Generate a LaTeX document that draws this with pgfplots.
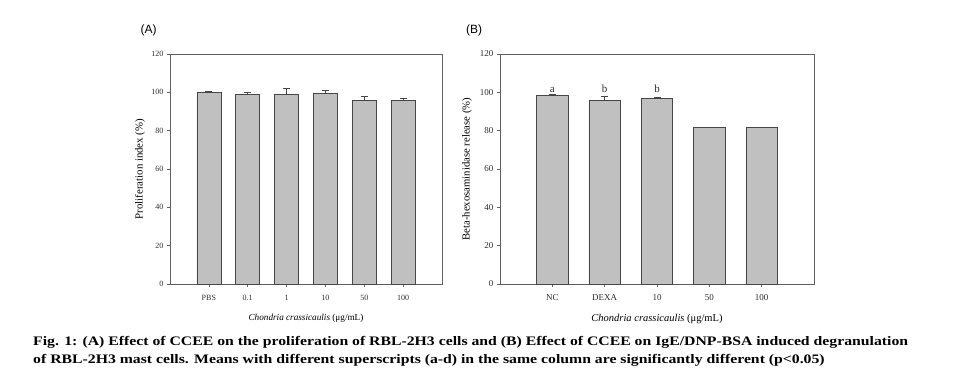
\documentclass[border=0pt]{standalone}
\usepackage{pgfplots}
\pgfplotsset{compat=1.18}
\usepackage{graphicx}
\usepackage{fontspec}
\setmainfont{Liberation Serif}
\newfontfamily\panelfont{Liberation Sans}
\definecolor{barfill}{RGB}{192,192,192}
\definecolor{bardraw}{RGB}{70,70,70}
\definecolor{axcol}{RGB}{95,95,95}
\definecolor{txtcol}{RGB}{45,45,45}
\newlength\capw
\newcommand\capfont{\fontsize{13}{13}\selectfont\bfseries}
\newcommand\capone{Fig. 1: (A) Effect of CCEE on the proliferation of RBL-2H3 cells and (B) Effect of CCEE on IgE/DNP-BSA induced degranulation}
\newcommand\captwo{of RBL-2H3 mast cells. Means with different superscripts (a-d) in the same column are significantly different (p<0.05)}
\pgfplotsset{
  common/.style={
    scale only axis,
    ymin=0, ymax=120, ytick={0,20,...,120},
    tick align=outside, tick pos=left,
    major tick length=3pt,
    axis line style={axcol, line width=0.6pt},
    tick style={axcol, line width=0.6pt},
    /pgf/number format/assume math mode=true,
    ticklabel style={text=txtcol},
    xticklabel style={yshift=-2.5pt, text height=1.6ex, text depth=0.3ex},
    label style={text=txtcol},
  }
}
\begin{document}
\settowidth\capw{\capfont\capone}%
\pgfmathsetmacro\capsx{875/\capw}%
\begin{tikzpicture}
\path[use as bounding box] (0pt,0pt) rectangle (957pt,-382pt);
% Panel A
\begin{axis}[common,
  at={(170pt,-284pt)}, anchor=south west,
  width=272pt, height=230pt,
  xmin=-1, xmax=6,
  xtick={0,...,5}, xticklabels={PBS,0.1,1,10,50,100},
  ticklabel style={font=\fontsize{8}{8}\selectfont},
  xlabel={\textit{Chondria crassicaulis} (μg/mL)},
  ylabel={Proliferation index (\%)},
  every axis x label/.style={at={(axis description cs:0.5,-0.150)}, anchor=center, font=\fontsize{9.2}{9.2}\selectfont},
  every axis y label/.style={at={(axis description cs:-0.110,0.5)}, anchor=center, rotate=90, font=\fontsize{10.8}{10.8}\selectfont},
]
\addplot[ybar, bar width=24pt, fill=barfill, draw=bardraw, line width=0.7pt,
  error bars/.cd, y dir=plus, y explicit,
  error bar style={bardraw, line width=0.8pt},
  error mark options={rotate=90, mark size=3.5pt, bardraw, line width=0.8pt}]
coordinates {
  (0,100.0) +- (0,0.5)
  (1,98.9) +- (0,0.9)
  (2,98.9) +- (0,2.9)
  (3,99.6) +- (0,1.4)
  (4,96.0) +- (0,2.0)
  (5,95.8) +- (0,0.9)
};
\end{axis}
% Panel B
\begin{axis}[common,
  at={(500pt,-284pt)}, anchor=south west,
  width=314pt, height=230pt,
  xmin=-1, xmax=5,
  xtick={0,...,4}, xticklabels={NC,DEXA,10,50,100},
  ticklabel style={font=\fontsize{9}{9}\selectfont},
  xlabel={\textit{Chondria crassicaulis} (μg/mL)},
  ylabel={Beta-hexosaminidase release (\%)},
  every axis x label/.style={at={(axis description cs:0.5,-0.150)}, anchor=center, font=\fontsize{10.5}{10.5}\selectfont},
  every axis y label/.style={at={(axis description cs:-0.105,0.5)}, anchor=center, rotate=90, font=\fontsize{10.7}{10.7}\selectfont},
]
\addplot[ybar, bar width=31.5pt, fill=barfill, draw=bardraw, line width=0.7pt,
  error bars/.cd, y dir=plus, y explicit,
  error bar style={bardraw, line width=0.8pt},
  error mark options={rotate=90, mark size=3.5pt, bardraw, line width=0.8pt}]
coordinates {
  (0,98.2) +- (0,0.5)
  (1,95.8) +- (0,2.2)
  (2,96.7) +- (0,0.8)
  (3,81.8) +- (0,0)
  (4,81.8) +- (0,0)
};
\addplot[draw=none, mark=none, nodes near coords, point meta=explicit symbolic,
  every node near coord/.style={anchor=base, inner sep=0pt, text=txtcol, font=\fontsize{11}{11}\selectfont}]
coordinates {(0,100) [a] (1,100) [b] (2,100) [b]};
\end{axis}
\node[anchor=west, inner sep=0pt, text=black, font=\panelfont\fontsize{12}{12}\selectfont] at (140.5pt,-30pt) {(A)};
\node[anchor=west, inner sep=0pt, text=black, font=\panelfont\fontsize{12}{12}\selectfont] at (466pt,-30pt) {(B)};
\node[anchor=base west, inner sep=0pt] at (33pt,-345pt) {\scalebox{\capsx}[1]{\capfont\capone}};
\node[anchor=base west, inner sep=0pt] at (33pt,-363pt) {\scalebox{\capsx}[1]{\capfont\captwo}};
\end{tikzpicture}
\end{document}
